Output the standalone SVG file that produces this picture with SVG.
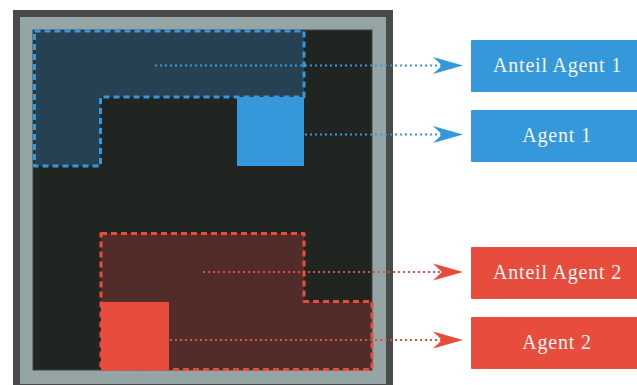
<svg xmlns="http://www.w3.org/2000/svg" width="637" height="385" viewBox="0 0 637 385">
  <style>
    .lbl { font-family: "Liberation Serif", "DejaVu Serif", serif; font-size: 20px; fill: #f4f6f6; text-anchor: middle; letter-spacing: 0.8px; }
    .region { stroke-width: 3; stroke-dasharray: 6 4; stroke-linejoin: round; fill: none; }
    .conn { stroke-width: 2; stroke-dasharray: 2 3; fill: none; }
  </style>
  <defs>
    <marker id="arrB" markerUnits="userSpaceOnUse" viewBox="0 -9 30 18" refX="9" refY="0" markerWidth="30" markerHeight="18" orient="auto">
      <path d="M0,-8.5 L30,0 L0,8.5 L9,0 Z" fill="#3498db"/>
    </marker>
    <marker id="arrR" markerUnits="userSpaceOnUse" viewBox="0 -9 30 18" refX="9" refY="0" markerWidth="30" markerHeight="18" orient="auto">
      <path d="M0,-8.5 L30,0 L0,8.5 L9,0 Z" fill="#e74c3c"/>
    </marker>
  </defs>

  <g id="grid">
    <rect x="13" y="10" width="380" height="376" fill="#4a4a4a"/>
    <rect x="20" y="17" width="366" height="367" fill="#95a5a6"/>
    <rect x="33" y="30" width="339" height="340" fill="#212522" stroke="#3d4446" stroke-width="1"/>
  </g>

  <g id="share1">
    <path d="M34.5,31 H304 V97 H100.5 V166 H34.5 Z" fill="#254152"/>
  </g>
  <g id="agent1-cell">
    <rect x="237" y="97" width="67" height="69" fill="#3498db"/>
  </g>
  <g id="share1-outline">
    <path class="region" stroke="#3498db" d="M34.5,31 H304 V97 H100.5 V166 H34.5 Z"/>
  </g>

  <g id="share2">
    <path d="M101,233.5 H304 V301.5 H372 V369.5 H101 Z" fill="#522c29"/>
  </g>
  <g id="agent2-cell">
    <rect x="101" y="302" width="68" height="68" fill="#e74c3c"/>
  </g>
  <g id="share2-outline">
    <path class="region" stroke="#e74c3c" d="M101,233.5 H304 V301.5 H372 V369.5 H101 Z"/>
  </g>

  <g id="connectors">
    <path class="conn" stroke="#3498db" d="M155,65.5 H442" marker-end="url(#arrB)"/>
    <path class="conn" stroke="#3498db" d="M305,134.5 H442" marker-end="url(#arrB)"/>
    <path class="conn" stroke="#e74c3c" d="M203,272 H442" marker-end="url(#arrR)"/>
    <path class="conn" stroke="#e74c3c" d="M170,340 H442" marker-end="url(#arrR)"/>
  </g>

  <g id="label-anteil1">
    <rect x="471" y="40" width="172" height="52" rx="1" fill="#3498db"/>
    <text class="lbl" x="557.5" y="72">Anteil Agent 1</text>
  </g>
  <g id="label-agent1">
    <rect x="471" y="110" width="172" height="52" rx="1" fill="#3498db"/>
    <text class="lbl" x="557" y="142">Agent 1</text>
  </g>
  <g id="label-anteil2">
    <rect x="471" y="247" width="172" height="52" rx="1" fill="#e74c3c"/>
    <text class="lbl" x="557.5" y="279">Anteil Agent 2</text>
  </g>
  <g id="label-agent2">
    <rect x="471" y="317" width="172" height="52" rx="1" fill="#e74c3c"/>
    <text class="lbl" x="557" y="349">Agent 2</text>
  </g>
</svg>
